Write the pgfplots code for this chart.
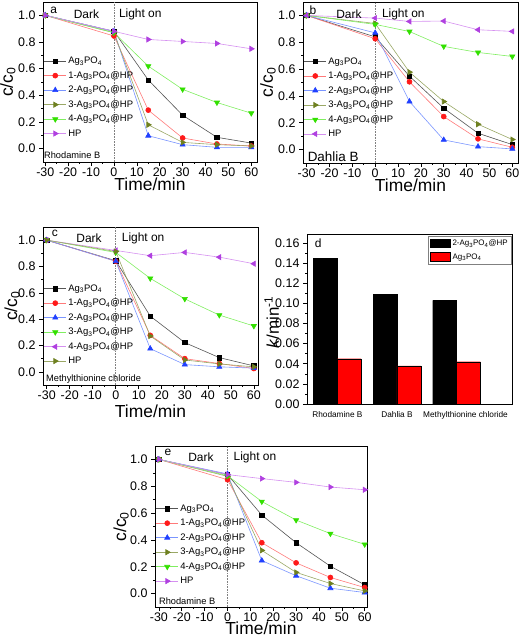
\documentclass[border=0pt]{standalone}
\usepackage{fontspec}
\setmainfont{Liberation Sans}
\usepackage{pgfplots}
\pgfplotsset{compat=1.18}
\definecolor{lblack}{HTML}{555555}
\definecolor{mred}{HTML}{FF1A1A}
\definecolor{lred}{HTML}{FF7A7A}
\definecolor{mblue}{HTML}{2040FF}
\definecolor{lblue}{HTML}{7A95FF}
\definecolor{molive}{HTML}{6E8020}
\definecolor{lolive}{HTML}{9AA866}
\definecolor{mgreen}{HTML}{33E000}
\definecolor{lgreen}{HTML}{80EE60}
\definecolor{mviolet}{HTML}{B040E0}
\definecolor{lviolet}{HTML}{D590F0}
\newcommand{\agp}{Ag\textsubscript{3}PO\textsubscript{4}}
\pgfplotsset{
  kin/.style={
    scale only axis, anchor=south west,
    ymin=-0.1, ymax=1.1,
    axis line style={line width=0.7pt},
    tick style={black, line width=0.6pt},
    tick align=outside, xtick pos=left, ytick pos=left,
    major tick length=4bp, minor tick length=2bp,
    xtick={-30,-20,-10,0,10,20,30,40,50,60},
    ytick={0,0.2,0.4,0.6,0.8,1.0},
    minor x tick num=1, minor y tick num=1,
    /pgf/number format/assume math mode=true,
    ticklabel style={font=\fontsize{12.5}{13}\selectfont},
    xticklabel style={inner sep=1.5pt},
    yticklabel style={/pgf/number format/.cd, fixed, fixed zerofill, precision=1},
    xlabel={Time/min}, ylabel={c/c\textsubscript{0}},
    label style={font=\fontsize{17.5}{18}\selectfont},
    legend style={draw=none, fill=none, font=\fontsize{9.5}{10}\selectfont,
      anchor=north west, inner sep=1pt, row sep=2.2pt},
    legend cell align=left,
    legend image code/.code={\draw[mark repeat=2,mark phase=2,#1] plot coordinates {(0cm,0cm) (0.38cm,0cm) (0.76cm,0cm)};},
  },
  sA/.style={color=lblack, line width=0.6pt, mark=square*, mark size=2.2pt, mark options={fill=black, draw=black}},
  sB/.style={color=lred, line width=0.6pt, mark=*, mark size=2.5pt, mark options={fill=mred, draw=mred}},
  sC/.style={color=lblue, line width=0.6pt, mark=triangle*, mark size=3pt, mark options={fill=mblue, draw=mblue}},
  sD/.style={color=lolive, line width=0.6pt, mark=triangle*, mark size=3pt, mark options={fill=molive, draw=molive, rotate=-90}},
  sE/.style={color=lgreen, line width=0.6pt, mark=triangle*, mark size=3pt, mark options={fill=mgreen, draw=mgreen, rotate=180}},
  sFr/.style={color=lviolet, line width=0.6pt, mark=triangle*, mark size=3pt, mark options={fill=mviolet, draw=mviolet, rotate=-90}},
  sFl/.style={color=lviolet, line width=0.6pt, mark=triangle*, mark size=3pt, mark options={fill=mviolet, draw=mviolet, rotate=90}},
  dline/.style={gray, densely dotted, line width=0.6pt, forget plot},
}
\begin{document}
\begin{tikzpicture}
\useasboundingbox (0,0) rectangle (520bp,637bp);
% ---------- panel a ----------
\begin{axis}[kin, at={(43bp,475bp)}, width=214bp, height=160bp, xmin=-31, xmax=62.5,
  legend style={at={(0.0,0.675)}},
  ylabel style={at={(axis description cs:-0.164,0.5)}, anchor=center},
  xlabel style={at={(axis description cs:0.5,-0.142)}, anchor=center}]
\addplot[dline] coordinates {(0,-0.1) (0,1.1)};
\addplot[sA] coordinates {(-30,1.0) (0,0.88) (15,0.515) (30,0.251) (45,0.085) (60,0.042)};
\addplot[sB] coordinates {(-30,1.0) (0,0.845) (15,0.289) (30,0.08) (45,0.035) (60,0.02)};
\addplot[sC] coordinates {(-30,1.0) (0,0.88) (15,0.097) (30,0.03) (45,0.01) (60,0.01)};
\addplot[sD] coordinates {(-30,1.0) (0,0.87) (15,0.179) (30,0.047) (45,0.03) (60,0.02)};
\addplot[sE] coordinates {(-30,1.0) (0,0.87) (15,0.619) (30,0.445) (45,0.346) (60,0.266)};
\addplot[sFr] coordinates {(-30,1.0) (0,0.88) (15,0.819) (30,0.804) (45,0.789) (60,0.749)};
\legend{\agp, 1-\agp @HP, 2-\agp @HP, 3-\agp @HP, 4-\agp @HP, HP}
\node[font=\fontsize{12}{14}\selectfont] at (axis cs:-26.3,1.04) {a};
\node[font=\fontsize{12}{14}\selectfont] at (axis cs:-12,1.01) {Dark};
\node[font=\fontsize{12}{14}\selectfont] at (axis cs:11.5,1.01) {Light on};
\node[font=\fontsize{9.3}{11}\selectfont, anchor=west, inner sep=0pt] at (axis cs:-30.6,-0.052) {Rhodamine B};
\end{axis}
% ---------- panel b ----------
\begin{axis}[kin, at={(303bp,474bp)}, width=215bp, height=161bp, xmin=-31.6, xmax=62.5,
  legend style={at={(0.0,0.675)}},
  ylabel style={at={(axis description cs:-0.163,0.5)}, anchor=center},
  xlabel style={at={(axis description cs:0.5,-0.137)}, anchor=center}]
\addplot[dline] coordinates {(0,-0.1) (0,1.1)};
\addplot[sA] coordinates {(-30,1.0) (0,0.84) (15,0.547) (30,0.308) (45,0.122) (60,0.037)};
\addplot[sB] coordinates {(-30,1.0) (0,0.826) (15,0.505) (30,0.246) (45,0.08) (60,0.017)};
\addplot[sC] coordinates {(-30,1.0) (0,0.87) (15,0.358) (30,0.072) (45,0.022) (60,0.005)};
\addplot[sD] coordinates {(-30,1.0) (0,0.94) (15,0.577) (30,0.358) (45,0.189) (60,0.075)};
\addplot[sE] coordinates {(-30,1.0) (0,0.933) (15,0.88) (30,0.769) (45,0.724) (60,0.694)};
\addplot[sFl] coordinates {(-30,1.0) (0,0.98) (15,0.955) (30,0.958) (45,0.893) (60,0.881)};
\legend{\agp, 1-\agp @HP, 2-\agp @HP, 3-\agp @HP, 4-\agp @HP, HP}
\node[font=\fontsize{12}{14}\selectfont] at (axis cs:-27.2,1.04) {b};
\node[font=\fontsize{12}{14}\selectfont] at (axis cs:-11.5,1.01) {Dark};
\node[font=\fontsize{12}{14}\selectfont] at (axis cs:12.3,1.01) {Light on};
\node[font=\fontsize{13.5}{15}\selectfont, anchor=west, inner sep=0pt] at (axis cs:-29.6,-0.052) {Dahlia B};
\end{axis}
% ---------- panel c ----------
\begin{axis}[kin, at={(43bp,252bp)}, width=215bp, height=158bp, xmin=-31.6, xmax=61.8,
  legend style={at={(0.0,0.655)}},
  ylabel style={at={(axis description cs:-0.144,0.5)}, anchor=center},
  xlabel style={at={(axis description cs:0.5,-0.165)}, anchor=center}]
\addplot[dline] coordinates {(0,-0.1) (0,1.1)};
\addplot[sA] coordinates {(-30,1.0) (0,0.844) (15,0.423) (30,0.222) (45,0.108) (60,0.045)};
\addplot[sB] coordinates {(-30,1.0) (0,0.84) (15,0.277) (30,0.10) (45,0.063) (60,0.025)};
\addplot[sC] coordinates {(-30,1.0) (0,0.84) (15,0.176) (30,0.055) (45,0.038) (60,0.028)};
\addplot[sE] coordinates {(-30,1.0) (0,0.907) (15,0.71) (30,0.554) (45,0.431) (60,0.348)};
\addplot[sFl] coordinates {(-30,1.0) (0,0.922) (15,0.882) (30,0.907) (45,0.871) (60,0.821)};
\addplot[sD] coordinates {(-30,1.0) (0,0.914) (15,0.272) (30,0.09) (45,0.06) (60,0.038)};
\legend{\agp, 1-\agp @HP, 2-\agp @HP, 3-\agp @HP, 4-\agp @HP, HP}
\node[font=\fontsize{12}{14}\selectfont] at (axis cs:-26.4,1.05) {c};
\node[font=\fontsize{12}{14}\selectfont] at (axis cs:-11.6,1.017) {Dark};
\node[font=\fontsize{12}{14}\selectfont] at (axis cs:11.9,1.017) {Light on};
\node[font=\fontsize{9.3}{11}\selectfont, anchor=west, inner sep=0pt] at (axis cs:-30.3,-0.052) {Methylthionine chloride};
\end{axis}
% ---------- panel d ----------
\begin{axis}[at={(307bp,233bp)}, anchor=south west, scale only axis, width=205bp, height=170bp,
  xmin=-0.51, xmax=2.93, ymin=0, ymax=0.169,
  axis line style={line width=0.7pt},
  tick style={black, line width=0.6pt}, tick align=outside, xtick pos=left, ytick pos=left,
  major tick length=4bp, minor tick length=2bp,
  xtick={0,1,2.15}, xticklabels={Rhodamine B, Dahlia B, Methylthionine chloride},
  x tick style={draw=none},
  xticklabel style={font=\fontsize{8.3}{10}\selectfont},
  ytick={0,0.02,0.04,0.06,0.08,0.10,0.12,0.14,0.16}, minor y tick num=1,
  /pgf/number format/assume math mode=true,
  yticklabel style={font=\fontsize{12.5}{13}\selectfont, /pgf/number format/.cd, fixed, fixed zerofill, precision=2},
  ylabel={\textit{k}/min\textsuperscript{-1}},
  ylabel style={font=\fontsize{17}{18}\selectfont, at={(axis description cs:-0.172,0.48)}, anchor=center},
  legend style={at={(1,0.99)}, anchor=north east, draw=gray, line width=0.7pt, fill=white,
    font=\fontsize{8}{9}\selectfont, inner sep=2pt, row sep=2.5pt},
  legend cell align=left,
  legend image code/.code={\draw[#1] (0cm,-0.12cm) rectangle (0.7cm,0.17cm);}]
\addplot[ybar, bar width=0.4, bar shift=-0.2, fill=black, draw=black, line width=0.4pt] coordinates {(0,0.145) (1,0.109) (2,0.103)};
\addplot[ybar, bar width=0.4, bar shift=0.2, fill=red, draw=black, line width=0.4pt] coordinates {(0,0.045) (1,0.038) (2,0.042)};
\legend{2-\agp @HP, \agp}
\node[font=\fontsize{12}{14}\selectfont] at (axis description cs:0.055,0.945) {d};
\end{axis}
% ---------- panel e ----------
\begin{axis}[kin, at={(155bp,30bp)}, width=212bp, height=161bp, xmin=-31.7, xmax=61,
  legend style={at={(0.0,0.655)}},
  ylabel style={at={(axis description cs:-0.16,0.5)}, anchor=center},
  xlabel style={at={(axis description cs:0.5,-0.133)}, anchor=center}]
\addplot[dline] coordinates {(0,-0.1) (0,1.1)};
\addplot[sA] coordinates {(-30,1.0) (0,0.887) (15,0.585) (30,0.379) (45,0.204) (60,0.065)};
\addplot[sB] coordinates {(-30,1.0) (0,0.849) (15,0.379) (30,0.229) (45,0.12) (60,0.045)};
\addplot[sC] coordinates {(-30,1.0) (0,0.892) (15,0.246) (30,0.133) (45,0.04) (60,0.008)};
\addplot[sD] coordinates {(-30,1.0) (0,0.874) (15,0.322) (30,0.158) (45,0.075) (60,0.02)};
\addplot[sE] coordinates {(-30,1.0) (0,0.879) (15,0.686) (30,0.548) (45,0.447) (60,0.367)};
\addplot[sFr] coordinates {(-30,1.0) (0,0.887) (15,0.857) (30,0.829) (45,0.794) (60,0.774)};
\legend{\agp, 1-\agp @HP, 2-\agp @HP, 3-\agp @HP, 4-\agp @HP, HP}
\node[font=\fontsize{12}{14}\selectfont] at (axis cs:-26,1.05) {e};
\node[font=\fontsize{12}{14}\selectfont] at (axis cs:-11.6,1.017) {Dark};
\node[font=\fontsize{12}{14}\selectfont] at (axis cs:12,1.017) {Light on};
\node[font=\fontsize{9.3}{11}\selectfont, anchor=west, inner sep=0pt] at (axis cs:-30,-0.06) {Rhodamine B};
\end{axis}
\end{tikzpicture}
\end{document}
